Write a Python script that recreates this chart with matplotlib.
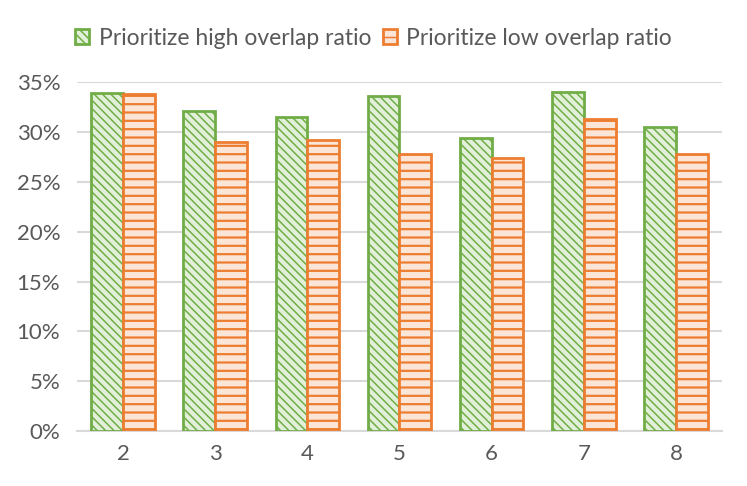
import numpy as np
import matplotlib.pyplot as plt
from matplotlib.ticker import PercentFormatter

categories = ['2', '3', '4', '5', '6', '7', '8']
high_overlap = [33.9, 32.1, 31.5, 33.6, 29.4, 34.0, 30.5]
low_overlap = [33.8, 29.0, 29.2, 27.8, 27.4, 31.3, 27.8]
series_names = ['Prioritize high overlap ratio', 'Prioritize low overlap ratio']

plt.rcParams['font.family'] = ['Lato', 'DejaVu Sans']
plt.rcParams['hatch.linewidth'] = 1.6

fig = plt.figure(figsize=(7.47, 4.86), dpi=100)
ax = fig.add_axes([0.103, 0.113, 0.8635, 0.718])

x = np.arange(len(categories))
w = 0.345
green = ax.bar(x - w / 2, high_overlap, w, facecolor='#E2F0D9', edgecolor='#70AD47',
               hatch='\\\\\\\\', linewidth=2, label=series_names[0], zorder=3)
orange = ax.bar(x + w / 2, low_overlap, w, facecolor='#FBE5D6', edgecolor='#ED7D31',
                hatch='--', linewidth=2, label=series_names[1], zorder=3)
# thinner diagonal hatch on the green bars
for p in green:
    if hasattr(p, 'set_hatch_linewidth'):
        p.set_hatch_linewidth(1.1)

ax.set_ylim(0, 35)
ax.set_yticks(np.arange(0, 36, 5))
ax.yaxis.set_major_formatter(PercentFormatter(decimals=0))
ax.set_xlim(-0.5, len(categories) - 0.5)
ax.set_xticks(x)
ax.set_xticklabels(categories)
ax.grid(axis='y', color='#D9D9D9', linewidth=1.5, zorder=0)
for s in ['left', 'right', 'top']:
    ax.spines[s].set_visible(False)
ax.spines['bottom'].set_color('#D9D9D9')
ax.spines['bottom'].set_linewidth(1.5)
ax.tick_params(length=0, labelsize=16, colors='#595959')
ax.tick_params(axis='y', pad=12)
ax.tick_params(axis='x', pad=9)

leg = fig.legend(loc='upper center', bbox_to_anchor=(0.5, 0.985), ncol=2, frameon=False,
                 fontsize=16.5, labelcolor='#595959', handlelength=0.62, handleheight=0.62,
                 handletextpad=0.4, columnspacing=0.5)
for h in leg.legend_handles:
    if hasattr(h, 'set_hatch_linewidth'):
        h.set_hatch_linewidth(1.1)

fig.savefig('out.png', dpi=100)
